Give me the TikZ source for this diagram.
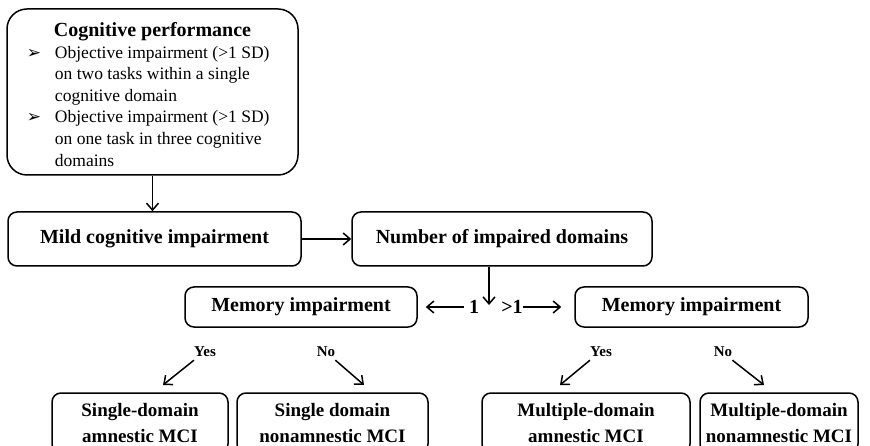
\documentclass[tikz,border=0pt]{standalone}
\usepackage{fontspec}
\setmainfont{Liberation Serif}
\newfontfamily\dingfont{DejaVu Sans}
\usetikzlibrary{arrows.meta}

\newcommand{\arrowbullet}{{\dingfont\fontsize{17}{17}\selectfont ➢}}

\begin{document}
\begin{tikzpicture}[x=1pt, y=-1pt,
        box/.style={draw, line width=1.5pt, rounded corners=9pt, align=center, inner sep=0pt,
            font=\fontsize{20}{24}\selectfont\bfseries},
        leaf/.style={box, minimum height=60pt, font=\fontsize{19}{25}\selectfont\bfseries},
        answer/.style={inner sep=0pt, font=\fontsize{15}{18}\selectfont\bfseries},
        count/.style={inner sep=0pt, font=\fontsize{20}{24}\selectfont\bfseries},
        arr/.style={-{Straight Barb[length=7pt,width=12pt]}, line width=1.5pt}
    ]
    \useasboundingbox (0,0) rectangle (870,446);

    \node[box, rounded corners=20pt, minimum width=291pt, minimum height=166pt,
        font=\fontsize{17.5}{21.6}\selectfont] (perf) at (152.5,92) {%
        \begin{tabular}{@{}p{28pt}@{}p{223pt}@{}}
            \multicolumn{2}{c}{\rule{0pt}{25pt}\fontsize{20}{22}\selectfont\bfseries Cognitive performance}\\
            \arrowbullet & Objective impairment (>1 SD)\\
                         & on two tasks within a single\\
                         & cognitive domain\\
            \arrowbullet & Objective impairment (>1 SD)\\
                         & on one task in three cognitive\\
                         & domains
        \end{tabular}};

    \node[box, minimum width=293pt, minimum height=54pt] (mci) at (154.5,239) {Mild cognitive impairment};
    \node[box, minimum width=300pt, minimum height=54pt] (num) at (502,239) {Number of impaired domains};

    \node[box, minimum width=232pt, minimum height=40pt] (memL) at (301,307) {Memory impairment};
    \node[box, minimum width=233pt, minimum height=40pt] (memR) at (691.5,307) {Memory impairment};

    \node[count, inner sep=5pt] (one) at (474,307) {1};
    \node[count] (more) at (512,307) {>1};
    \coordinate (fork) at (489,305);

    \node[answer] (yesL) at (205,352) {Yes};
    \node[answer] (noL) at (326,352) {No};
    \node[answer] (yesR) at (601,352) {Yes};
    \node[answer] (noR) at (723,352) {No};

    % outcome boxes, cut by the lower edge
    \node[leaf, minimum width=176pt] (singA) at (140,423) {Single-domain\\amnestic MCI};
    \node[leaf, minimum width=191pt] (singN) at (332.5,423) {Single domain\\nonamnestic MCI};
    \node[leaf, minimum width=208pt] (multA) at (586,423) {Multiple-domain\\amnestic MCI};
    \node[leaf, minimum width=158pt] (multN) at (779,423) {Multiple-domain\\nonamnestic MCI};

    \coordinate (tipYesL) at (163,385);
    \coordinate (tipNoL) at (364,385);
    \coordinate (tipYesR) at (560,385);
    \coordinate (tipNoR) at (764,385);

    \draw[arr] (perf.south) -- (perf.south |- mci.north);
    \draw[arr] (mci) -- (num);
    \draw[arr] (num.south -| fork) -- (fork);
    \draw[arr, shorten >=8pt] (one) -- (memL);
    \draw[arr, shorten >=13pt] (more) -- (memR);

    \draw[arr] ([yshift=-3pt]yesL.south west) -- (tipYesL);
    \draw[arr] ([yshift=-3pt]noL.south east) -- (tipNoL);
    \draw[arr] ([yshift=-3pt]yesR.south west) -- (tipYesR);
    \draw[arr] ([yshift=-3pt]noR.south east) -- (tipNoR);
\end{tikzpicture}
\end{document}
